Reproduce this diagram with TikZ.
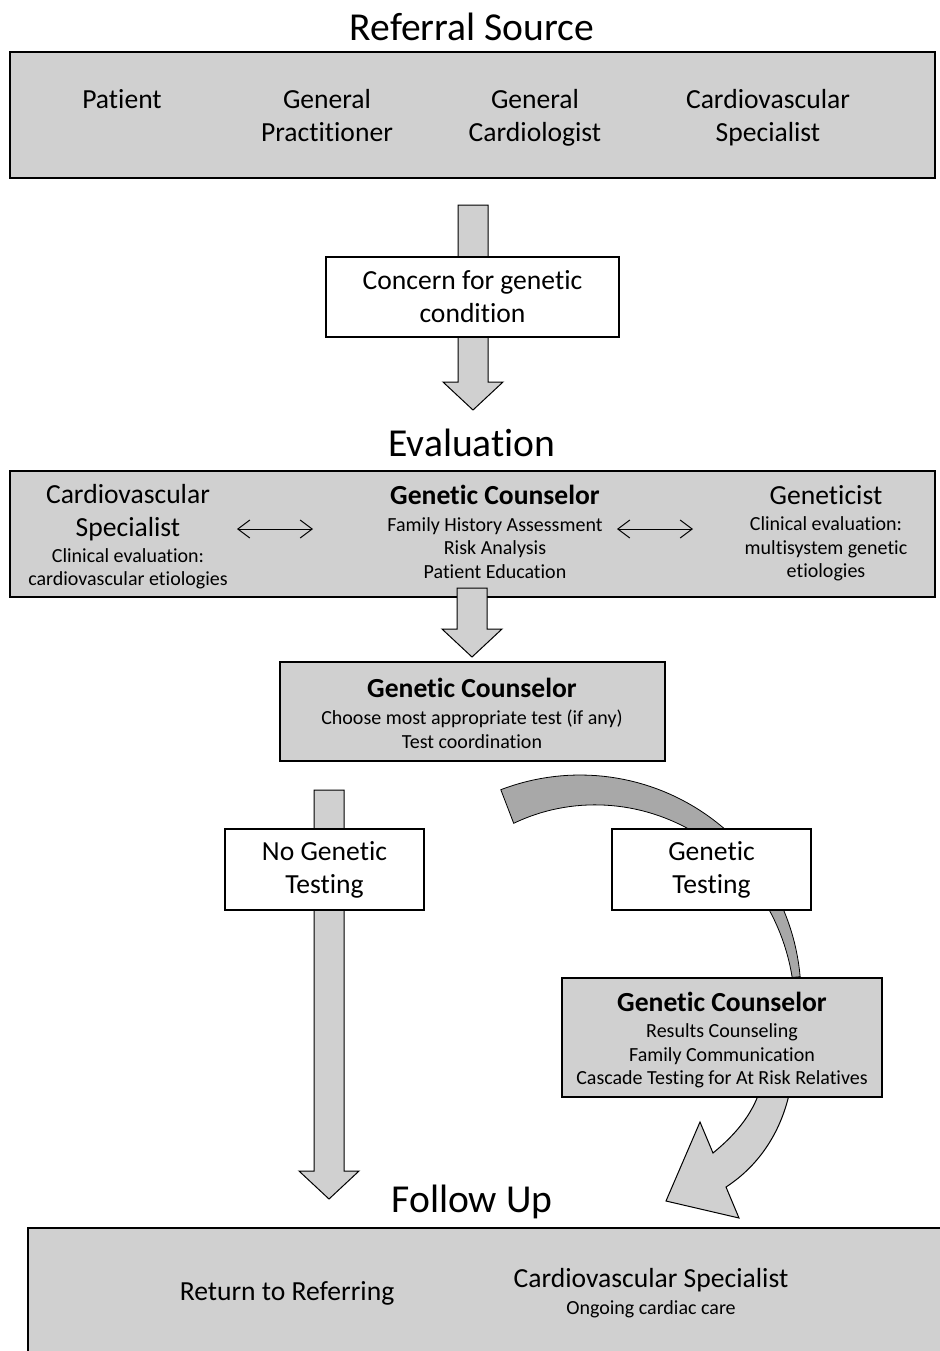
\documentclass[tikz,border=0pt]{standalone}
\usepackage{fontspec}
\setmainfont{Carlito}[Ligatures=CommonOff]
\usetikzlibrary{arrows.meta}
\usetikzlibrary{positioning}
\definecolor{panelgray}{RGB}{208,208,208}
\definecolor{bandgray}{RGB}{168,168,168}
% straight block arrow pointing down: x, top, tip
\newcommand{\downblock}[3]{%
  \draw[blockarrow] (#1-15,#2) -- (#1+15,#2) -- (#1+15,#3-28) -- (#1+30,#3-28)
    -- (#1,#3) -- (#1-30,#3-28) -- (#1-15,#3-28) -- cycle;}

\begin{document}
\begin{tikzpicture}
    [x=0.5pt,y=-0.5pt,
    panel/.style={rectangle,draw=black,line width=0.75pt,fill=panelgray,inner sep=0pt},
    whitebox/.style={rectangle,draw=black,line width=0.6pt,fill=white,inner sep=0pt,
      align=center,font=\fontsize{13.8}{16.5}\selectfont},
    title/.style={inner sep=0pt,font=\fontsize{19.8}{23}\selectfont},
    label/.style={inner sep=0pt,align=center,font=\fontsize{13.8}{16.5}\selectfont},
    boldlabel/.style={inner sep=0pt,align=center,font=\fontsize{13.8}{16.5}\selectfont\bfseries},
    note/.style={inner sep=0pt,align=center,font=\fontsize{10}{11.75}\selectfont},
    blockarrow/.style={draw=black,line width=0.5pt,fill=panelgray},
    link/.style={{Straight Barb[length=6pt,width=9pt]}-{Straight Barb[length=6pt,width=9pt]},line width=0.5pt}]

    \useasboundingbox (0,0) rectangle (940,1351);
    \clip (0,0) rectangle (940,1351);

    % referral source
    \node[title] (reftitle) at (472,27) {Referral Source};
    \node[panel,minimum width=462.5pt,minimum height=63pt] (referral) at (472.5,115) {};
    \node[label] (patient)  at (122,99)  {Patient};
    \node[label] (gp)       at (327,115.5) {General\\Practitioner};
    \node[label] (gcard)    at (535,118) {General\\Cardiologist};
    \node[label] (cvspec)   at (768,117.5) {Cardiovascular\\Specialist};

    \downblock{473}{205}{410}
    \node[whitebox,minimum width=146.5pt,minimum height=40pt] (concern) at (472.5,297)
      {Concern for genetic\\condition};

    % evaluation
    \node[title] (evaltitle) at (472,443) {Evaluation};
    \node[panel,minimum width=462.5pt,minimum height=63pt] (evaluation) at (472.5,534) {};
    \node[label] (cvname) at (128,513) {Cardiovascular\\Specialist};
    \node[note]  (cvnote) at (128,569) {Clinical evaluation:\\cardiovascular etiologies};
    \node[boldlabel] (gchead) at (495,495) {Genetic Counselor};
    \node[note]  (gcnote) at (495,548) {Family History Assessment\\Risk Analysis\\Patient Education};
    \node[label] (genname) at (826,495) {Geneticist};
    \node[note]  (gennote) at (826,549) {Clinical evaluation:\\multisystem genetic\\etiologies};
    \coordinate (la) at (237,529);
    \coordinate (lb) at (313,529);
    \coordinate (ra) at (617,529);
    \coordinate (rb) at (693,529);
    \draw[link] (la) -- (lb);
    \draw[link] (ra) -- (rb);

    \downblock{472}{588}{657}
    \node[panel,minimum width=192.5pt,minimum height=49.5pt] (choose) at (472.5,711.5) {};
    \node[boldlabel] (choosehead) at (472,688) {Genetic Counselor};
    \node[note] (choosenote) at (472,729) {Choose most appropriate test (if any)\\Test coordination};

    % no testing branch
    \downblock{329}{790}{1199}
    \node[whitebox,minimum width=99.5pt,minimum height=40.5pt] (notest) at (324.5,869.5)
      {No Genetic\\Testing};

    % testing branch
    \filldraw[fill=bandgray,draw=black,line width=0.4pt]
      plot[domain=111:5,samples=60] ({580+221*cos(\x)},{996-221*sin(\x)})
      -- plot[domain=5:111,samples=60] ({580+(185+28*(111-\x)/106)*cos(\x)},{996-(185+28*(111-\x)/106)*sin(\x)})
      -- cycle;
    \node[whitebox,minimum width=99.5pt,minimum height=40.5pt] (test) at (711.5,869.5)
      {Genetic\\Testing};

    \draw[blockarrow] (760,1090) .. controls (752,1115) and (735,1135) .. (713,1153)
      -- (700,1122) -- (666,1201) -- (739,1218) -- (726,1187)
      .. controls (760,1165) and (782,1130) .. (790,1090) -- cycle;
    \node[panel,minimum width=160pt,minimum height=59.5pt] (results) at (722,1037.5) {};
    \node[boldlabel] (resultshead) at (722,1002) {Genetic Counselor};
    \node[note] (resultsnote) at (722,1056)
      {Results Counseling\\Family Communication\\Cascade Testing for At Risk Relatives};

    % follow up
    \node[title] (followtitle) at (472,1202) {Follow Up};
    \draw[panel] (28,1228) rectangle (960,1380);
    \node[label] (return) at (287,1293) {Return to Referring};
    \node[label] (cvcare) at (651,1280) {Cardiovascular Specialist};
    \node[note]  (cvcarenote) at (651,1309) {Ongoing cardiac care};

  \end{tikzpicture}
\end{document}
